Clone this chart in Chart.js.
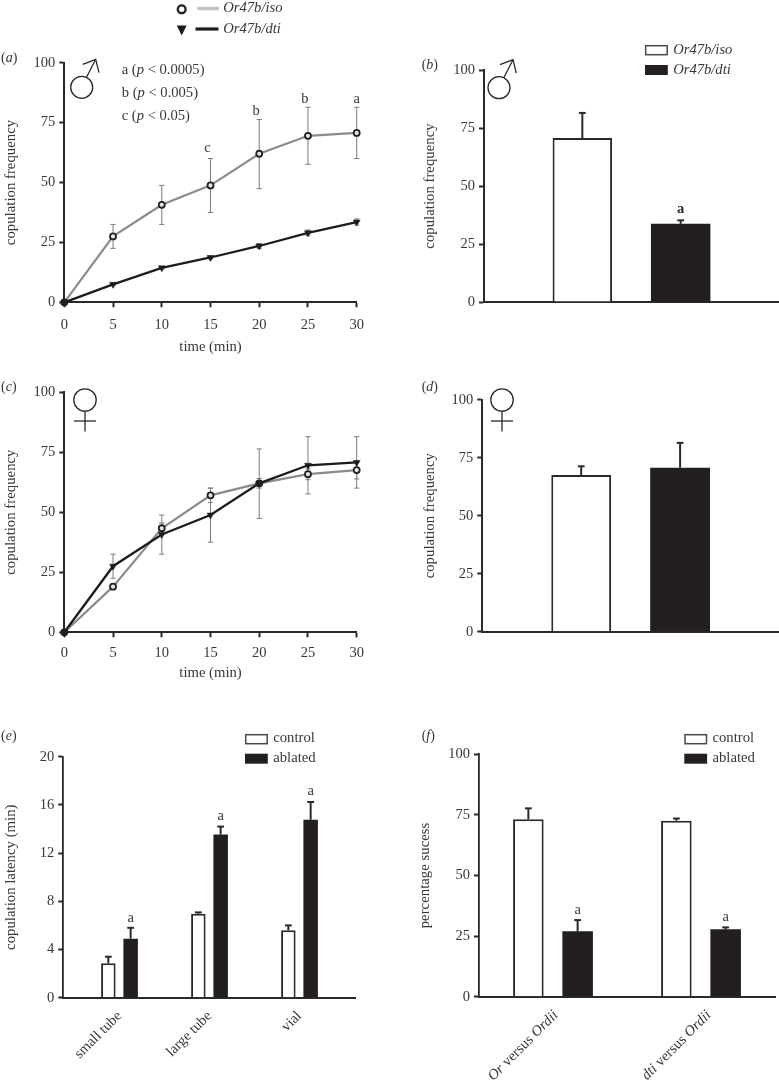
<!DOCTYPE html>
<html><head><meta charset="utf-8">
<style>html,body{margin:0;padding:0;background:#fff;width:779px;height:1084px;overflow:hidden}
canvas{position:absolute;display:block}</style>
<script src="https://cdn.jsdelivr.net/npm/chart.js@4/dist/chart.umd.min.js"></script>
</head><body>
<canvas id="pa"></canvas><canvas id="pb"></canvas><canvas id="pc"></canvas>
<canvas id="pd"></canvas><canvas id="pe"></canvas><canvas id="pf"></canvas>
<script>
// ---- data ----
const times = [0, 5, 10, 15, 20, 25, 30];
const isoMaleValues = [0, 27.5, 40.7, 48.8, 62, 69.5, 70.7];
const isoMaleErrLow = [0, 22.5, 32.5, 37.5, 47.4, 57.6, 60];
const isoMaleErrHigh = [0, 32.5, 48.8, 60, 76.3, 81.4, 81.4];
const dtiMaleValues = [0, 7.5, 14.4, 18.7, 23.5, 29, 33.5];
const dtiMaleErrLow = [0, 7.1, 13.9, 18.1, 22.5, 27.8, 32.2];
const dtiMaleErrHigh = [0, 7.9, 14.9, 19.3, 24.5, 30.2, 34.8];
const maleSigLabels = ['c', 'b', 'b', 'a'];
const maleSigTimes = [15, 20, 25, 30];
const maleSigLevels = [64.3, 79.7, 84.7, 84.7];
const pKey = [['a (', 'p', ' < 0.0005)'], ['b (', 'p', ' < 0.005)'], ['c (', 'p', ' < 0.05)']];

const isoFemaleValues = [0, 19, 43.3, 57, 62, 65.8, 67.5];
const isoFemaleErrLow = [0, 18, 41, 54, 60, 63.5, 63.8];
const isoFemaleErrHigh = [0, 20, 45.5, 60, 64, 68, 71.2];
const dtiFemaleValues = [0, 27.5, 40.7, 48.8, 62, 69.5, 70.7];
const dtiFemaleErrLow = [0, 22.5, 32.5, 37.5, 47.4, 57.6, 60];
const dtiFemaleErrHigh = [0, 32.5, 48.8, 60, 76.3, 81.4, 81.4];

const seriesNames = ['Or47b/iso', 'Or47b/dti'];
const totalMale = [70.7, 33.7];
const totalMaleErr = [81.5, 35.2];
const totalFemale = [67.5, 70.7];
const totalFemaleErr = [71.3, 81.4];

const groupNames = ['control', 'ablated'];
const latencyCats = ['small tube', 'large tube', 'vial'];
const latencyControl = [2.85, 6.97, 5.6];
const latencyControlErr = [3.4, 7.08, 6.0];
const latencyAblated = [4.9, 13.55, 14.77];
const latencyAblatedErr = [5.8, 14.2, 16.24];
const latencySig = [6.6, 15.07, 17.1];

const successCats = [[['Or', 1], [' versus ', 0], ['Ordii', 1]], [['dti', 1], [' versus ', 0], ['Ordii', 1]]];
const successControl = [73.2, 72.6];
const successControlErr = [77.7, 73.5];
const successAblated = [27, 27.8];
const successAblatedErr = [31.6, 28.6];
const successSig = [35.8, 33];

// ---- styles ----
const SERIF = "'Liberation Serif'";
const INK = '#2b2829', TXT = '#3a3637', BAR = '#231f20';
Chart.defaults.font.family = SERIF;
Chart.defaults.color = TXT;
Chart.defaults.animation = false;
Chart.defaults.responsive = false;

function font(size, italic, bold) { return (italic ? 'italic ' : '') + (bold ? 'bold ' : '') + size + 'px ' + SERIF; }
function runs(ctx, parts, x, y, size) { // parts: [text, italic]
  ctx.textAlign = 'left'; ctx.textBaseline = 'middle'; ctx.fillStyle = TXT;
  for (const [t, it] of parts) { ctx.font = font(size, it); ctx.fillText(t, x, y); x += ctx.measureText(t).width; }
}
function panelTag(ctx, letter, x, y) { runs(ctx, [['(', 0], [letter, 1], [')', 0]], x, y, 14); }
function stroke(ctx, pts, w, c) {
  ctx.beginPath(); ctx.lineWidth = w; ctx.strokeStyle = c; ctx.lineCap = 'butt';
  pts.forEach((p, i) => i ? ctx.lineTo(p[0], p[1]) : ctx.moveTo(p[0], p[1])); ctx.stroke();
}
function male(ctx, dx, dy) {
  ctx.beginPath(); ctx.arc(81.7 + dx, 87.3 + dy, 11, 0, 7); ctx.lineWidth = 1.3; ctx.strokeStyle = INK; ctx.stroke();
  stroke(ctx, [[86.5 + dx, 77.3 + dy], [95.7 + dx, 59.3 + dy]], 1.3, INK);
  stroke(ctx, [[82.7 + dx, 64.3 + dy], [95.7 + dx, 59.3 + dy], [99 + dx, 72.7 + dy]], 1.3, INK);
}
function female(ctx, cx, cy) {
  ctx.beginPath(); ctx.arc(cx, cy, 11.2, 0, 7); ctx.lineWidth = 1.3; ctx.strokeStyle = INK; ctx.stroke();
  stroke(ctx, [[cx, cy + 11.2], [cx, cy + 31.5]], 1.3, INK);
  stroke(ctx, [[cx - 11, cy + 21], [cx + 11, cy + 21]], 1.3, INK);
}
function swatches(ctx, x, y1, y2, names) {
  ctx.fillStyle = '#fff'; ctx.strokeStyle = '#4a4a4a'; ctx.lineWidth = 1.5;
  ctx.fillRect(x, y1, 21.5, 9); ctx.strokeRect(x, y1, 21.5, 9);
  ctx.fillStyle = BAR; ctx.fillRect(x - 0.7, y2, 22.8, 10);
  names(x + 27.5);
}

// ---- chart builders ----
function place(id, x, y, w, h) {
  const c = document.getElementById(id);
  c.width = w; c.height = h; c.style.left = x + 'px'; c.style.top = y + 'px'; c.style.width = w + 'px'; c.style.height = h + 'px';
  return c;
}
function yAxis(o) {
  return {
    min: 0, max: o.max, position: 'left',
    afterFit(s) { s.width = o.width; },
    border: { display: true, color: INK, width: o.line },
    grid: { drawOnChartArea: false, color: INK, tickLength: 5, tickWidth: 2 },
    ticks: { stepSize: o.step, padding: 4, color: TXT, font: { size: 14.5 }, autoSkip: false },
    title: { display: true, text: o.title, color: TXT, font: { size: 14.8 }, padding: { top: o.titlePad, bottom: 0 } }
  };
}
function decor(ox, oy, fn) {
  return {
    id: 'decor' + ox + '_' + oy,
    afterDraw(chart) { const c = chart.ctx; c.save(); c.translate(-ox, -oy); fn(c, chart, ox, oy); c.restore(); }
  };
}
function topWhisker(ch, ds, vals, errs) {
  const ctx = ch.ctx, y = ch.scales.y;
  errs.forEach((e, i) => {
    const x = ch.getDatasetMeta(ds).data[i].x;
    stroke(ctx, [[x, y.getPixelForValue(vals[i])], [x, y.getPixelForValue(e)]], 2, INK);
    stroke(ctx, [[x - 3.4, y.getPixelForValue(e)], [x + 3.4, y.getPixelForValue(e)]], 2, INK);
  });
}
function lineChart(cfg) {
  const pts = v => times.map((t, i) => ({ x: t, y: v[i] }));
  const under = {
    id: 'errs',
    beforeDatasetsDraw(chart) {
      const ctx = chart.ctx; ctx.save();
      cfg.errs.forEach(e => {
        e.hi.forEach((hi, i) => {
          if (i === 0) return;
          const x = chart.scales.x.getPixelForValue(times[i]);
          const a = chart.scales.y.getPixelForValue(e.lo[i]), b = chart.scales.y.getPixelForValue(hi);
          stroke(ctx, [[x, a], [x, b]], 1, '#7d7d7d');
          stroke(ctx, [[x - 2.6, b], [x + 2.6, b]], 1, '#7d7d7d');
          stroke(ctx, [[x - 2.6, a], [x + 2.6, a]], 1, '#7d7d7d');
        });
      });
      ctx.restore();
    }
  };
  return new Chart(place(cfg.id, cfg.ox, cfg.oy, 390, cfg.h), {
    type: 'line',
    data: {
      datasets: [
        { label: seriesNames[0], data: pts(cfg.iso), order: cfg.isoOrder, borderColor: '#8b8b8b', borderWidth: 2.2, tension: 0,
          pointStyle: 'circle', pointRadius: 3, pointBorderWidth: 1.8, pointBorderColor: '#222', pointBackgroundColor: '#e6e6e6', clip: false },
        { label: seriesNames[1], data: pts(cfg.dti), order: cfg.dtiOrder, borderColor: '#1d1b1c', borderWidth: 2.3, tension: 0,
          pointStyle: 'triangle', pointRotation: 180, pointRadius: 4, pointBorderWidth: 0.5, pointBorderColor: '#1d1b1c', pointBackgroundColor: '#1d1b1c', clip: false }
      ]
    },
    options: {
      maintainAspectRatio: false,
      layout: { padding: { top: cfg.top, right: 33.3, left: 0, bottom: 0 } },
      plugins: { legend: { display: false }, tooltip: { enabled: false } },
      scales: {
        x: {
          type: 'linear', min: 0, max: 30, afterFit(s) { s.height = cfg.h - cfg.zero; },
          border: { display: true, color: INK, width: 2 },
          grid: { drawOnChartArea: false, color: INK, tickLength: 5, tickWidth: 2 },
          ticks: { stepSize: 5, padding: cfg.tickPad, color: TXT, font: { size: 14.5 }, maxRotation: 0, autoSkip: false },
          title: { display: true, text: 'time (min)', color: TXT, font: { size: 14.7 }, padding: { top: 0, bottom: cfg.xTitlePad } }
        },
        y: yAxis({ max: 100, step: 25, width: 64.3, line: 2, title: 'copulation frequency', titlePad: 2 })
      }
    },
    plugins: [under, decor(cfg.ox, cfg.oy, cfg.deco)]
  });
}
function twoBarChart(cfg) {
  return new Chart(place(cfg.id, 390, cfg.oy, 389, cfg.h), {
    type: 'bar',
    data: {
      datasets: [{
        label: 'copulation frequency', data: cfg.vals.map((v, i) => ({ x: i + 1, y: v })),
        backgroundColor: ['#ffffff', BAR], borderColor: [INK, BAR], borderWidth: [2, 0], borderSkipped: 'bottom',
        categoryPercentage: 1, barPercentage: 0.605
      }]
    },
    options: {
      maintainAspectRatio: false,
      layout: { padding: { top: cfg.top, right: 0, left: 0, bottom: 0 } },
      plugins: { legend: { display: false }, tooltip: { enabled: false } },
      scales: {
        x: {
          type: 'linear', min: 0, max: 3, offset: false, afterFit(s) { s.height = cfg.h - cfg.zero; },
          afterBuildTicks(s) { s.ticks = [{ value: 1 }, { value: 2 }]; },
          border: { display: true, color: INK, width: 2 },
          grid: { drawOnChartArea: false, drawTicks: false, offset: false },
          ticks: { display: false }
        },
        y: yAxis({ max: 100, step: 25, width: cfg.axisX - 390, line: 2, title: 'copulation frequency', titlePad: 31 })
      }
    },
    plugins: [{ id: 'w', beforeDatasetsDraw(ch) { ch.ctx.save(); topWhisker(ch, 0, cfg.vals, cfg.errs); ch.ctx.restore(); } }, decor(390, cfg.oy, cfg.deco)]
  });
}
function groupedChart(cfg) {
  const n = cfg.c.length;
  return new Chart(place(cfg.id, cfg.ox, cfg.oy, cfg.w, cfg.h), {
    type: 'bar',
    data: {
      datasets: [
        { label: groupNames[0], data: cfg.c.map((v, i) => ({ x: i, y: v })), backgroundColor: '#fff', borderColor: INK, borderWidth: 2, borderSkipped: 'bottom' },
        { label: groupNames[1], data: cfg.a.map((v, i) => ({ x: i, y: v })), backgroundColor: BAR, borderColor: BAR, borderWidth: 0, borderSkipped: 'bottom' }
      ]
    },
    options: {
      maintainAspectRatio: false,
      categoryPercentage: cfg.cat, barPercentage: cfg.bar,
      layout: { padding: { top: cfg.top, right: cfg.right, left: 0, bottom: 0 } },
      plugins: { legend: { display: false }, tooltip: { enabled: false } },
      scales: {
        x: {
          type: 'linear', min: cfg.xMin, max: cfg.xMax, offset: false,
          afterFit(s) { s.height = cfg.h - cfg.zero; },
          afterBuildTicks(s) { s.ticks = Array.from({ length: n }, (_, i) => ({ value: i })); },
          border: { display: true, color: INK, width: 2 },
          grid: { drawOnChartArea: false, drawTicks: false, offset: false },
          ticks: cfg.ticks
        },
        y: yAxis({ max: cfg.max, step: cfg.step, width: cfg.width, line: 1.8, title: cfg.title, titlePad: cfg.titlePad })
      }
    },
    plugins: [{ id: 'w', beforeDatasetsDraw(ch) { ch.ctx.save(); topWhisker(ch, 0, cfg.c, cfg.cE); topWhisker(ch, 1, cfg.a, cfg.aE); ch.ctx.restore(); } }, decor(cfg.ox, cfg.oy, cfg.deco)]
  });
}

// ---- panels ----
lineChart({
  id: 'pa', ox: 0, oy: 0, h: 360, top: 62.7, zero: 302.3, xTitlePad: 4.4, tickPad: 9, isoOrder: 1, dtiOrder: 0,
  iso: isoMaleValues, dti: dtiMaleValues,
  errs: [{ lo: isoMaleErrLow, hi: isoMaleErrHigh }, { lo: dtiMaleErrLow, hi: dtiMaleErrHigh }],
  deco(ctx, ch) {
    // shared legend above the panel
    ctx.beginPath(); ctx.arc(181.7, 9.3, 3.9, 0, 7); ctx.lineWidth = 2.4; ctx.strokeStyle = '#222'; ctx.stroke();
    stroke(ctx, [[197.3, 8.5], [219, 8.5]], 3.5, '#c2c2c2');
    runs(ctx, [[seriesNames[0], 1]], 223.3, 8.5, 14.6);
    ctx.beginPath(); ctx.moveTo(176.8, 25.5); ctx.lineTo(186.6, 25.5); ctx.lineTo(181.7, 35.5); ctx.closePath(); ctx.fillStyle = '#1d1b1c'; ctx.fill();
    stroke(ctx, [[195.5, 29], [218.5, 29]], 3.2, '#1d1b1c');
    runs(ctx, [[seriesNames[1], 1]], 223.3, 29, 14.6);
    panelTag(ctx, 'a', 1, 58.7);
    male(ctx, 0, 0);
    const ys = [70.3, 92.7, 115.7];
    pKey.forEach((p, i) => runs(ctx, [[p[0], 0], [p[1], 1], [p[2], 0]], 121.7, ys[i], 14.6));
    ctx.textAlign = 'center'; ctx.font = font(14.5); ctx.fillStyle = TXT; ctx.textBaseline = 'middle';
    maleSigLabels.forEach((l, i) => ctx.fillText(l, ch.scales.x.getPixelForValue(maleSigTimes[i]) - (i < 3 ? 3 : 0), ch.scales.y.getPixelForValue(maleSigLevels[i])));
  }
});
twoBarChart({
  id: 'pb', oy: 0, h: 360, top: 70, zero: 302, axisX: 484, vals: totalMale, errs: totalMaleErr,
  deco(ctx, ch, ox, oy) {
    panelTag(ctx, 'b', 421.7, 65);
    male(ctx, 417.3, 0.4);
    swatches(ctx, 645.7, 45.7, 65, x => { runs(ctx, [[seriesNames[0], 1]], x, 50.5, 14.6); runs(ctx, [[seriesNames[1], 1]], x, 70, 14.6); });
    ctx.textAlign = 'center'; ctx.textBaseline = 'middle'; ctx.font = font(14.5, 0, 1); ctx.fillStyle = INK;
    ctx.fillText('a', ch.getDatasetMeta(0).data[1].x + ox, ch.scales.y.getPixelForValue(40) + oy);
  }
});
lineChart({
  id: 'pc', ox: 0, oy: 360, h: 340, top: 32, zero: 272.3, xTitlePad: 17.8, tickPad: 7, isoOrder: 1, dtiOrder: 0,
  iso: isoFemaleValues, dti: dtiFemaleValues,
  errs: [{ lo: isoFemaleErrLow, hi: isoFemaleErrHigh }, { lo: dtiFemaleErrLow, hi: dtiFemaleErrHigh }],
  deco(ctx) {
    panelTag(ctx, 'c', 1, 387.3);
    female(ctx, 85, 400);
  }
});
twoBarChart({
  id: 'pd', oy: 360, h: 340, top: 39.7, zero: 271.7, axisX: 482.3, vals: totalFemale, errs: totalFemaleErr,
  deco(ctx) {
    panelTag(ctx, 'd', 421.7, 387);
    female(ctx, 502, 400);
  }
});
groupedChart({
  id: 'pe', ox: 0, oy: 700, w: 390, h: 384, top: 56.7, zero: 297.7, right: 34.3,
  xMin: -0.6244, xMax: 2.6244, cat: 0.4956, bar: 0.65,
  c: latencyControl, cE: latencyControlErr, a: latencyAblated, aE: latencyAblatedErr,
  max: 20, step: 4, width: 63.3, title: 'copulation latency (min)', titlePad: 2,
  ticks: { display: true, padding: 10, color: TXT, font: { size: 14.5 }, autoSkip: false, minRotation: 45, maxRotation: 45,
    callback: v => latencyCats[v] },
  deco(ctx, ch, ox, oy) {
    panelTag(ctx, 'e', 1, 736);
    swatches(ctx, 245.7, 734.7, 753.7, x => { runs(ctx, [[groupNames[0], 0]], x, 738, 14.7); runs(ctx, [[groupNames[1], 0]], x, 758, 14.7); });
    ctx.textAlign = 'center'; ctx.textBaseline = 'middle'; ctx.font = font(14.5); ctx.fillStyle = TXT;
    latencySig.forEach((v, i) => ctx.fillText('a', ch.getDatasetMeta(1).data[i].x + ox, ch.scales.y.getPixelForValue(v) + oy));
  }
});
groupedChart({
  id: 'pf', ox: 390, oy: 700, w: 389, h: 384, top: 54.3, zero: 296.7, right: 4,
  xMin: -0.5, xMax: 1.5, cat: 0.666, bar: 0.62,
  c: successControl, cE: successControlErr, a: successAblated, aE: successAblatedErr,
  max: 100, step: 25, width: 89, title: 'percentage sucess', titlePad: 26,
  ticks: { display: false },
  deco(ctx, ch, ox, oy) {
    panelTag(ctx, 'f', 421.7, 736);
    swatches(ctx, 685, 734.7, 753.7, x => { runs(ctx, [[groupNames[0], 0]], x, 738, 14.7); runs(ctx, [[groupNames[1], 0]], x, 758, 14.7); });
    ctx.textAlign = 'center'; ctx.textBaseline = 'middle'; ctx.font = font(14.5); ctx.fillStyle = TXT;
    successSig.forEach((v, i) => ctx.fillText('a', ch.getDatasetMeta(1).data[i].x + ox, ch.scales.y.getPixelForValue(v) + oy));
    // rotated category labels with mixed italic/roman parts, anchored on the axis ticks
    successCats.forEach((parts, i) => {
      const tick = ch.scales.x.getPixelForValue(i) + ox;
      ctx.save();
      let w = 0;
      parts.forEach(([t, it]) => { ctx.font = font(14.7, it); w += ctx.measureText(t).width; });
      ctx.translate(tick + (i ? 8 : 3), 1013);
      ctx.rotate(-Math.PI / 4);
      runs(ctx, parts, -w, 0, 14.7);
      ctx.restore();
    });
  }
});
</script>
</body></html>
